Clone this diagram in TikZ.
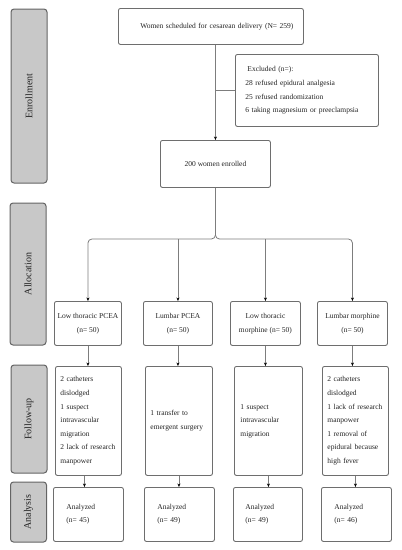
\documentclass[tikz,border=0pt]{standalone}
\usepackage{fontspec}
\setmainfont{Liberation Serif}
\usetikzlibrary{arrows.meta}
\definecolor{boxgray}{RGB}{110,110,110}
\definecolor{linegray}{RGB}{125,125,125}
\definecolor{sidefill}{RGB}{200,200,200}
\definecolor{sidegray}{RGB}{100,100,100}
\definecolor{txt}{RGB}{35,35,35}
\begin{document}
\begin{tikzpicture}[x=1pt,y=-1pt,
  box/.style={draw=boxgray, line width=0.9pt, rounded corners=2pt, anchor=north west,
    inner ysep=0pt, text=txt, font=\fontsize{7.5}{13.6}\selectfont},
  side/.style={draw=sidegray, fill=sidefill, line width=1pt, rounded corners=3pt,
    rotate=90, anchor=center, inner sep=0pt, minimum height=36, text=txt,
    font=\fontsize{10}{12}\selectfont},
  conn/.style={draw=linegray, line width=0.8pt},
  arr/.style={conn, -{Stealth[length=3.5pt,width=3pt,color=black]}},
]
\useasboundingbox (0,0) rectangle (402,550);

% side labels
\node[side, minimum width=174] (s1) at (29,96) {Enrollment};
\node[side, minimum width=142] (s2) at (28,274) {Allocation};
\node[side, minimum width=108] (s3) at (29,419) {Follow-up};
\node[side, minimum width=60] (s4) at (28.5,512) {Analysis};

% enrollment
\node[box, minimum width=185, minimum height=36, text width=165, inner xsep=10, align=right]
  (top) at (118,8) {Women scheduled for cesarean delivery (N= 259)};
\node[box, minimum width=143, minimum height=72, text width=123, inner xsep=10, align=left,
  font=\fontsize{7.5}{13.7}\selectfont]
  (exc) at (235,54) {\hspace*{2pt}Excluded (n=):\\28 refused epidural analgesia\\25 refused randomization\\6 taking magnesium or preeclampsia};
\node[box, minimum width=110, minimum height=47, align=center] (enr) at (160,140) {200 women enrolled};

% allocation
\node[box, minimum width=67, minimum height=44, inner xsep=0pt, align=center, font=\fontsize{7.5}{14.5}\selectfont]
  (g1) at (54,301) {Low thoracic PCEA\\(n= 50)};
\node[box, minimum width=69, minimum height=44, inner xsep=0pt, align=center, font=\fontsize{7.5}{14.5}\selectfont]
  (g2) at (143,301) {Lumbar PCEA\\(n= 50)};
\node[box, minimum width=70, minimum height=44, inner xsep=0pt, align=center, font=\fontsize{7.5}{14.5}\selectfont]
  (g3) at (230,301) {Low thoracic\\morphine (n= 50)};
\node[box, minimum width=70, minimum height=44, inner xsep=0pt, align=center, font=\fontsize{7.5}{14.5}\selectfont]
  (g4) at (317,301) {Lumbar morphine\\(n= 50)};

% follow-up
\node[box, minimum height=109, text width=56, inner xsep=5, align=left]
  (f1) at (55,366) {2 catheters\\dislodged\\1 suspect\\intravascular\\migration\\2 lack of research\\manpower};
\node[box, minimum height=109, text width=57, inner xsep=5, align=left]
  (f2) at (145,366) {1 transfer to\\emergent surgery};
\node[box, minimum height=109, text width=56, inner xsep=6, align=left]
  (f3) at (234,366) {1 suspect\\intravascular\\migration};
\node[box, minimum height=109, text width=56, inner xsep=5, align=left]
  (f4) at (322,366) {2 catheters\\dislodged\\1 lack of research\\manpower\\1 removal of\\epidural because\\high fever};

% analysis
\node[box, minimum height=54, text width=44, inner xsep=13, align=left, font=\fontsize{7.5}{13}\selectfont]
  (a1) at (53,487) {Analyzed\\(n= 45)};
\node[box, minimum height=54, text width=44, inner xsep=13, align=left, font=\fontsize{7.5}{13}\selectfont]
  (a2) at (144,487) {Analyzed\\(n= 49)};
\node[box, minimum height=54, text width=45, inner xsep=12, align=left, font=\fontsize{7.5}{13}\selectfont]
  (a3) at (233,487) {Analyzed\\(n= 49)};
\node[box, minimum height=54, text width=44, inner xsep=13, align=left, font=\fontsize{7.5}{13}\selectfont]
  (a4) at (321,487) {Analyzed\\(n= 46)};

% connectors
\coordinate (j) at (215,239);
\draw[arr] (top.south -| enr.north) -- (enr.north);
\draw[conn] (enr.north |- exc.west) -- (exc.west);
\draw[arr, rounded corners=4pt] (enr.south) -- (enr.south |- j) -| (g1.north);
\draw[arr, rounded corners=4pt] (enr.south) -- (enr.south |- j) -| (g4.north);
\draw[arr] (g2.north |- j) -- (g2.north);
\draw[arr] (g3.north |- j) -- (g3.north);

\draw[arr] (g1.south) -- (g1.south |- f1.north);
\draw[arr] (g2.south) -- (g2.south |- f2.north);
\draw[arr] (g3.south) -- (g3.south |- f3.north);
\draw[arr] (g4.south) -- (g4.south |- f4.north);

\draw[arr] ([xshift=-4pt]f1.south) -- ([xshift=-4pt]f1.south |- a1.north);
\draw[arr] (f2.south) -- (f2.south |- a2.north);
\draw[arr] (f3.south) -- (f3.south |- a3.north);
\draw[arr] (f4.south) -- (f4.south |- a4.north);
\end{tikzpicture}
\end{document}
